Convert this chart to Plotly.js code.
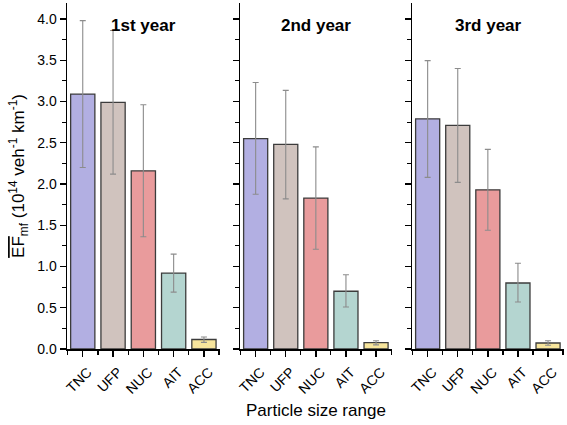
<!DOCTYPE html>
<html>
<head>
<meta charset="utf-8">
<script src="https://cdn.plot.ly/plotly-3.0.1.min.js"></script>
<style>html,body{margin:0;padding:0;background:#fff;}#chart{width:567px;height:425px;}</style>
</head>
<body>
<div id="chart"></div>
<script>
// ---- data ----
const categories = ['TNC', 'UFP', 'NUC', 'AIT', 'ACC'];
const years = ['1st year', '2nd year', '3rd year'];

const mean1 = [3.09, 2.99, 2.16, 0.92, 0.115];
const upper1 = [3.98, 3.86, 2.96, 1.15, 0.145];
const lower1 = [2.20, 2.12, 1.36, 0.69, 0.08];

const mean2 = [2.55, 2.48, 1.83, 0.70, 0.077];
const upper2 = [3.23, 3.135, 2.45, 0.90, 0.10];
const lower2 = [1.875, 1.82, 1.21, 0.51, 0.05];

const mean3 = [2.79, 2.71, 1.93, 0.80, 0.073];
const upper3 = [3.495, 3.40, 2.42, 1.04, 0.10];
const lower3 = [2.08, 2.02, 1.44, 0.57, 0.045];

const barColors = ['#b2afe2', '#d0c3be', '#e99b9c', '#b4d5d0', '#f7e59c'];

const yTickVals = [0, 0.5, 1.0, 1.5, 2.0, 2.5, 3.0, 3.5, 4.0];
const xTitle = 'Particle size range';
const yTitle = '<span style="text-decoration:overline">EF</span><sub>mf</sub> (10<sup>14</sup> veh<sup>-1</sup> km<sup>-1</sup>)';

// ---- build ----
const means = [mean1, mean2, mean3];
const uppers = [upper1, upper2, upper3];
const lowers = [lower1, lower2, lower3];
const xpos = categories.map((c, i) => i);
const FONT = 'Liberation Sans, Arial, sans-serif';

const W = 567, H = 425;
const panelPx = [[67, 220], [240, 392], [412, 564]];
const yTopPx = 3, yBotPx = 349;
const yDom = [1 - yBotPx / H, 1 - yTopPx / H];
const xRange = [-0.52, 4.53];
const yRange = [0, (yBotPx - yTopPx) / 82.5];

const data = [];
const layout = {
  width: W, height: H,
  margin: {l: 0, r: 0, t: 0, b: 0},
  paper_bgcolor: '#fff', plot_bgcolor: '#fff',
  showlegend: false,
  font: {family: FONT, color: '#000'},
  annotations: []
};

for (let p = 0; p < 3; p++) {
  const n = p + 1;
  const xa = 'x' + (n === 1 ? '' : n);
  const ya = 'y' + (n === 1 ? '' : n);
  const dom = [panelPx[p][0] / W, panelPx[p][1] / W];
  data.push({
    type: 'bar',
    x: xpos,
    y: means[p],
    xaxis: xa, yaxis: ya,
    width: 0.8,
    marker: {color: barColors, line: {color: '#3c3c3c', width: 1.3}},
    error_y: {
      type: 'data', symmetric: false,
      array: means[p].map((m, i) => uppers[p][i] - m),
      arrayminus: means[p].map((m, i) => m - lowers[p][i]),
      color: '#8c8c8c', thickness: 1.1, width: 3
    },
    hoverinfo: 'skip'
  });

  // bottom x axis
  layout['xaxis' + (n === 1 ? '' : n)] = {
    domain: dom, anchor: ya, range: xRange,
    tickmode: 'array', tickvals: xpos, ticktext: categories,
    tickangle: -45, ticks: 'outside', ticklen: 6, tickwidth: 1.3, tickcolor: '#000',
    tickfont: {size: 14, family: FONT, color: '#000'},
    ticklabelshift: 5, ticklabelstandoff: 2,
    minor: {tickmode: 'array', tickvals: xpos.map(v => v + 0.5).concat([-0.5]), ticks: 'outside', ticklen: 4, tickwidth: 1.2, tickcolor: '#000'},
    showline: true, linecolor: '#000', linewidth: 1.5,
    showgrid: false, zeroline: false, fixedrange: true
  };
  // top overlay x axis
  layout['xaxis' + (n + 3)] = {
    overlaying: xa, anchor: ya, side: 'top', range: xRange,
    tickmode: 'array', tickvals: xpos, showticklabels: false,
    ticks: 'inside', ticklen: 5, tickwidth: 1.3, tickcolor: '#000',
    showline: true, linecolor: '#000', linewidth: 1.5,
    showgrid: false, zeroline: false, fixedrange: true
  };
  // left y axis
  layout['yaxis' + (n === 1 ? '' : n)] = {
    domain: yDom, anchor: xa, range: yRange,
    tickmode: 'array', tickvals: yTickVals, ticktext: yTickVals.map(v => v.toFixed(1)),
    showticklabels: p === 0,
    ticks: 'outside', ticklen: 6, tickwidth: 1.3, tickcolor: '#000',
    tickfont: {size: 14, family: FONT, color: '#000'},
    minor: {tickmode: 'linear', tick0: 0.25, dtick: 0.5, ticks: 'outside', ticklen: 3.5, tickwidth: 1.2, tickcolor: '#000'},
    showline: true, linecolor: '#000', linewidth: 1.5,
    showgrid: false, zeroline: false, fixedrange: true
  };
  // right overlay y axis
  layout['yaxis' + (n + 3)] = {
    overlaying: ya, anchor: xa, side: 'right', range: yRange,
    tickmode: 'array', tickvals: yTickVals, showticklabels: false,
    ticks: 'inside', ticklen: 5, tickwidth: 1.3, tickcolor: '#000',
    minor: {tickmode: 'linear', tick0: 0.25, dtick: 0.5, ticks: 'inside', ticklen: 3.5, tickwidth: 1.2, tickcolor: '#000'},
    showline: true, linecolor: '#000', linewidth: 1.5,
    showgrid: false, zeroline: false, fixedrange: true
  };

  layout.annotations.push({
    text: '<b>' + years[p] + '</b>', xref: 'paper', yref: 'paper',
    x: (dom[0] + dom[1]) / 2, y: 1 - 25 / H, xanchor: 'center', yanchor: 'middle',
    showarrow: false, font: {size: 17, family: FONT, color: '#000'}
  });
}

layout.yaxis.title = {text: yTitle, font: {size: 17, family: FONT, color: '#000'}, standoff: 8};

layout.annotations.push({
  text: xTitle, xref: 'paper', yref: 'paper',
  x: ((panelPx[0][0] + panelPx[2][1]) / 2) / W, y: 1 - 410 / H,
  xanchor: 'center', yanchor: 'middle', showarrow: false,
  font: {size: 17, family: FONT, color: '#000'}
});

Plotly.newPlot('chart', data, layout, {staticPlot: true, displayModeBar: false});
</script>
</body>
</html>
